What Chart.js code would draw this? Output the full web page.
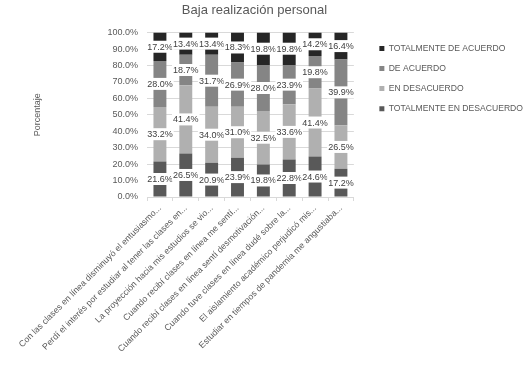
<!DOCTYPE html>
<html>
<head>
<meta charset="utf-8">
<script src="https://cdn.jsdelivr.net/npm/chart.js@4/dist/chart.umd.min.js"></script>
<style>
  html, body { margin: 0; padding: 0; background: #fff; }
  #wrap { width: 525px; height: 368px; }
</style>
</head>
<body>
<div id="wrap"><canvas id="chart" width="525" height="368"></canvas></div>
<script>
var categories = [
  "Con las clases en línea disminuyó el entusiasmo...",
  "Perdí el interés por estudiar al tener las clases en...",
  "La proyección hacia mis estudios se vio...",
  "Cuando recibí clases en línea me sentí...",
  "Cuando recibí clases en línea sentí desmotivación...",
  "Cuando tuve clases en línea dudé sobre la...",
  "El aislamiento académico perjudicó mis...",
  "Estudiar en tiempos de pandemia me angustiaba..."
];

var totalDesacuerdo = [21.6, 26.5, 20.9, 23.9, 19.8, 22.8, 24.6, 17.2];
var enDesacuerdo    = [33.2, 41.4, 34.0, 31.0, 32.5, 33.6, 41.4, 26.5];
var deAcuerdo       = [28.0, 18.7, 31.7, 26.9, 28.0, 23.9, 19.8, 39.9];
var totalAcuerdo    = [17.2, 13.4, 13.4, 18.3, 19.8, 19.8, 14.2, 16.4];

var FONT = "'Liberation Sans', Arial, sans-serif";
var GREY = "#595959";

// labels with white box on the middle of each segment (like excel)
var barLabels = {
  id: "barLabels",
  afterDatasetsDraw: function(chart) {
    var ctx = chart.ctx;
    ctx.save();
    ctx.font = "9px " + FONT;
    ctx.textAlign = "center";
    ctx.textBaseline = "middle";
    chart.data.datasets.forEach(function(ds, di) {
      var meta = chart.getDatasetMeta(di);
      meta.data.forEach(function(bar, i) {
        var txt = ds.data[i].toFixed(1) + "%";
        var y = (bar.y + bar.base) / 2;
        var w = ctx.measureText(txt).width + 2;
        ctx.fillStyle = "#fff";
        ctx.fillRect(bar.x - w / 2, y - 6, w, 12);
        ctx.fillStyle = "#404040";
        ctx.fillText(txt, bar.x, y + 0.5);
      });
    });
    ctx.restore();
  }
};

// nudge legend right and title left to where excel put them
var nudge = {
  id: "nudge",
  afterLayout: function(chart) {
    chart.legend.left += 14;
    chart.legend.right += 14;
    chart.titleBlock.left -= 5;
    chart.titleBlock.right -= 5;
  }
};

new Chart(document.getElementById("chart"), {
  type: "bar",
  data: {
    labels: categories,
    datasets: [
      { label: "TOTALMENTE EN DESACUERDO", data: totalDesacuerdo, backgroundColor: "#595959" },
      { label: "EN DESACUERDO", data: enDesacuerdo, backgroundColor: "#b0b0b0" },
      { label: "DE ACUERDO", data: deAcuerdo, backgroundColor: "#858585" },
      { label: "TOTALMENTE DE ACUERDO", data: totalAcuerdo, backgroundColor: "#262626" }
    ]
  },
  options: {
    responsive: false,
    animation: false,
    devicePixelRatio: 1,
    datasets: { bar: { categoryPercentage: 1, barPercentage: 0.5 } },
    layout: { padding: { right: 6 } },
    plugins: {
      title: {
        display: true,
        text: "Baja realización personal",
        color: GREY,
        font: { family: FONT, size: 13, weight: "normal" },
        padding: { top: 3, bottom: 14 }
      },
      legend: {
        position: "right",
        align: "start",
        fullSize: false,
        maxWidth: 200,
        reverse: true,
        labels: {
          boxWidth: 5,
          boxHeight: 5,
          padding: 11.5,
          color: GREY,
          font: { family: FONT, size: 8.6 }
        }
      },
      tooltip: { enabled: false }
    },
    scales: {
      x: {
        stacked: true,
        afterFit: function(scale) { scale.height = 171; },
        grid: { drawOnChartArea: false, drawTicks: true, tickLength: 4, color: "#d9d9d9" },
        border: { color: "#d9d9d9" },
        ticks: {
          autoSkip: false,
          minRotation: 45,
          maxRotation: 45,
          padding: 2,
          color: GREY,
          font: { family: FONT, size: 8.8 }
        }
      },
      y: {
        stacked: true,
        min: 0,
        max: 100,
        afterFit: function(scale) { scale.width = 147; },
        grid: { color: "#d9d9d9", drawTicks: false },
        border: { display: false },
        title: {
          display: true,
          text: "Porcentaje",
          color: GREY,
          font: { family: FONT, size: 9 },
          padding: { top: 32, bottom: 0 }
        },
        ticks: {
          stepSize: 10,
          padding: 9,
          color: GREY,
          font: { family: FONT, size: 9 },
          callback: function(v) { return v.toFixed(1) + "%"; }
        }
      }
    }
  },
  plugins: [barLabels, nudge]
});
</script>
</body>
</html>
